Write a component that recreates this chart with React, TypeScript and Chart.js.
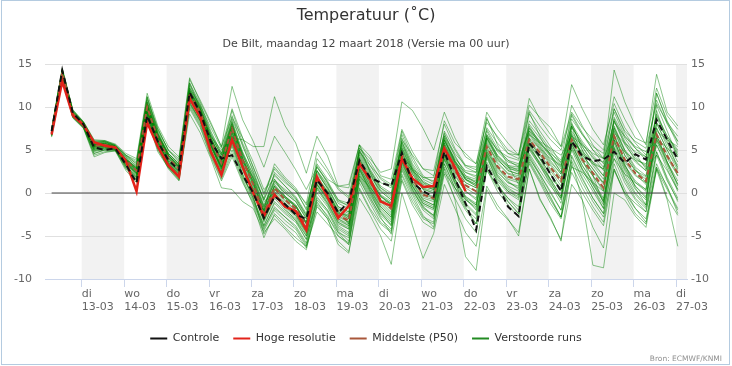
import React, { useEffect, useRef } from 'react';
import { Chart, registerables } from 'chart.js';

Chart.register(...registerables);

const titleText = 'Temperatuur (˚C)';
const subtitleText = 'De Bilt, maandag 12 maart 2018 (Versie ma 00 uur)';
const creditsText = 'Bron: ECMWF/KNMI';

// time axis: hours after 12-03 00:00, 6-hourly steps
const firstHour = 7;
const stepHours = 6;
const xMin = 3.25;
const xMax = 366.2;

const dayNames = ['di', 'wo', 'do', 'vr', 'za', 'zo', 'ma', 'di', 'wo', 'do', 'vr', 'za', 'zo', 'ma', 'di'];
const dayDates = ['13-03', '14-03', '15-03', '16-03', '17-03', '18-03', '19-03', '20-03', '21-03', '22-03', '23-03', '24-03', '25-03', '26-03', '27-03'];
const shadedDays = [0, 2, 4, 6, 8, 10, 12, 14];

const yTicksMin = -10;
const yTicksMax = 15;
const yStep = 5;

const controle = [
  7.2, 14.3, 9.3, 8.0, 5.3, 5.0, 5.2, 3.3, 1.2,
  9.0, 6.0, 3.8, 2.7, 11.7, 9.3, 6.0, 4.0,
  4.4, 2.1, 0.0, -2.9, -0.4, -1.3, -2.5, -3.0, 1.5, 0.0, -2.3, -1.0,
  3.8, 1.8, 1.2, 0.8, 4.7, 1.2, 0.2, -0.4, 4.8, 1.7, -1.2, -4.3,
  3.1, 1.0, -1.6, -2.7, 5.8, 4.3, 2.2, 0.2, 6.0, 4.3, 3.7, 3.9, 4.8, 3.5, 4.5, 3.9, 8.5, 6.2, 3.9,
];

const hogeResolutie = [
  6.8, 13.0, 9.0, 7.9, 5.9, 5.5, 5.3, 3.7, 0.2,
  8.2, 5.4, 3.2, 1.9, 11.0, 8.8, 4.8, 2.1,
  6.2, 3.0, 0.0, -2.7, -0.2, -1.6, -2.1, -4.3, 1.9, -0.5, -2.9, -1.5,
  3.4, 1.6, -1.0, -1.5, 4.0, 1.7, 0.7, 0.8, 5.2, 3.0, 0.2,
];

const middelste = [
  7.0, 14.0, 9.2, 8.0, 5.5, 5.6, 5.3, 3.8, 2.6,
  10.0, 6.4, 4.0, 2.8, 11.6, 9.4, 6.0, 3.5,
  7.5, 3.8, 1.0, -2.4, 0.6, -0.8, -1.8, -3.8, 1.6, -0.3, -2.6, -3.2,
  3.6, 1.3, -0.8, -1.8, 4.5, 1.6, -0.2, -0.6, 5.2, 2.6, 0.9, 0.2,
  5.4, 3.1, 1.9, 1.6, 6.2, 4.7, 3.0, 1.4, 6.2, 3.9, 2.3, 0.6, 6.6, 3.9, 2.3, 1.4, 6.8, 4.3, 2.3,
];

// zero reference line, from first to 59th time step
const nulLijnStappen = [0, 58];
const nulLijnWaarde = 0;

const verstoordeRuns = [
  [7.1,14.2,9.3,8.1,5.7,5.8,5.4,4.0,2.9, 10.4,6.9,4.4,3.1,12.0,9.8,6.4,3.8, 8.0,4.2,1.3,-2.0,1.0,-0.5,-1.5,-3.4,2.0,0.2,-2.0,-2.8, 4.0,1.8,-0.3,-1.2,5.0,2.2,0.5,0.0,5.8,3.2,1.5,0.8, 6.0,3.6,2.3,2.0,7.0,5.2,3.4,1.8,6.8,4.5,2.8,1.0,7.2,4.4,2.6,1.9,7.5,5.0,3.0],
  [6.6,13.4,8.8,7.6,4.6,5.0,5.0,3.0,1.6, 9.0,5.4,3.2,2.0,10.6,8.4,5.0,2.3, 6.0,2.2,-0.6,-3.8,-1.0,-2.2,-3.2,-5.4,0.0,-1.6,-4.0,-4.8, 2.2,0.0,-2.4,-3.6,3.0,0.4,-1.8,-2.6,3.8,1.0,-1.2,-2.4, 4.2,1.8,0.2,-0.6,5.0,3.2,1.0,-1.2,5.4,2.6,0.6,-1.8,5.8,2.8,0.8,-0.4,6.0,3.4,1.0],
  [7.4,14.4,9.6,8.3,6.1,6.0,5.6,4.4,3.6, 11.0,7.6,4.9,3.8,12.8,10.4,7.2,4.6, 9.0,5.4,2.6,-0.8,2.2,0.8,-0.4,-2.4,3.0,1.2,-1.2,-1.8, 5.0,2.8,0.8,0.0,6.4,3.4,1.6,1.0,7.0,4.2,2.4,1.8, 7.2,4.8,3.6,3.2,8.0,6.4,4.8,3.2,7.8,5.6,4.2,2.6,8.4,5.6,4.0,3.2,8.8,6.2,4.4],
  [6.9,13.8,9.0,7.8,5.2,5.4,5.2,3.4,2.0, 9.4,5.8,3.6,2.4,11.0,8.8,5.4,2.8, 6.6,2.8,0.2,-3.2,-0.4,-1.6,-2.6,-4.6,0.8,-1.0,-3.4,-4.0, 2.8,0.4,-1.8,-3.0,3.6,0.8,-1.2,-1.8,4.4,1.6,-0.4,-1.2, 4.6,2.2,0.8,0.2,5.2,3.6,1.6,-0.4,5.2,2.8,1.0,-1.0,5.4,2.6,0.4,-0.8,5.6,2.8,0.2],
  [7.2,14.1,9.2,8.0,5.6,5.7,5.3,3.9,2.8, 10.2,6.6,4.2,3.0,11.8,9.6,6.6,5.0, 6.4,6.2,5.4,5.4,11.2,7.8,5.8,2.3,6.6,4.3,0.8,1.0, 5.6,4.3,2.0,1.6,7.4,4.8,2.8,2.6,8.0,5.2,3.2,2.7, 8.6,6.4,4.6,4.0,9.2,7.2,5.4,3.4,8.6,6.8,5.0,4.0,9.4,6.6,5.2,4.2,9.0,6.6,5.0],
  [7.0,14.0,9.3,8.1,5.8,5.9,5.5,4.2,3.2, 10.8,7.4,5.0,4.0,13.2,10.8,8.2,5.4, 12.4,8.5,6.0,3.0,6.6,4.7,2.7,0.4,3.0,1.4,-0.8,-1.2, 5.2,3.6,1.6,0.8,7.2,4.2,2.0,1.2,6.6,4.4,2.0,1.6, 6.8,5.0,3.8,3.0,7.8,5.8,4.2,2.4,7.2,5.4,3.4,2.0,7.6,5.0,3.6,2.6,8.0,5.8,3.6],
  [6.5,13.2,8.7,7.5,4.2,4.7,4.9,2.6,1.2, 8.6,4.8,2.9,1.5,9.2,7.0,4.0,0.6, 0.4,-1.0,-1.8,-4.6,-3.0,-4.2,-5.6,-6.6,-1.4,-3.0,-5.6,-6.8, -0.6,-2.6,-5.0,-8.3,0.0,-3.8,-7.6,-4.7,1.0,-1.8,-4.6,-6.2, 0.8,-1.4,-3.0,-5.0,2.8,-0.6,-3.0,-5.4,1.0,-0.8,-4.0,-6.4,2.8,-0.2,-2.4,-3.6,3.0,-0.6,-2.6],
  [6.8,13.6,9.0,7.8,5.0,5.2,5.1,3.2,1.8, 9.2,5.6,3.4,2.2,10.4,8.2,4.8,1.8, 5.0,1.6,-1.0,-4.0,-1.8,-2.8,-4.0,-6.0,-0.6,-2.0,-4.4,-5.6, 1.6,-0.8,-3.0,-4.2,2.2,-0.2,-2.6,-4.0,2.8,-0.8,-7.4,-9.0, 0.4,-1.9,-3.1,-4.6,2.8,-0.8,-2.8,-5.6,3.6,-0.8,-8.4,-8.7,0.0,-0.8,-2.7,-4.0,2.7,-0.8,-6.2],
  [7.3,14.3,9.5,8.2,5.9,6.0,5.5,4.3,3.4, 10.6,7.2,4.6,3.4,12.4,10.0,6.8,4.2, 8.4,4.8,2.0,-1.4,1.6,0.2,-0.8,-2.8,2.6,0.8,-1.6,-2.2, 4.6,2.4,0.4,-0.6,5.8,2.8,1.0,0.6,6.6,3.8,2.0,1.2, 6.6,4.2,3.0,2.4,8.4,6.8,5.0,3.8,10.2,7.8,5.6,4.0,14.3,10.6,7.8,5.6,13.8,9.4,7.8],
  [7.1,14.0,9.1,7.9,5.4,5.5,5.2,3.6,2.4, 9.8,6.2,3.8,2.6,11.4,9.2,5.8,3.2, 7.2,3.4,0.6,-2.8,0.2,-1.2,-2.2,-4.2,1.2,-0.6,-3.0,-3.6, 3.2,1.0,-1.0,-2.2,4.2,1.2,-0.6,-1.0,5.8,3.6,2.4,2.0, 7.6,5.8,4.6,4.4,11.0,8.6,6.8,5.4,12.6,9.8,7.4,5.6,10.4,7.6,5.8,4.4,10.8,8.0,6.0],
  [6.9,13.9,9.1,7.9,5.5,5.6,5.3,3.8,2.6, 10.0,6.4,4.0,2.8,11.6,9.4,6.0,3.6, 7.6,3.8,1.0,-2.2,0.8,-0.6,-1.6,-3.6,1.8,0.0,-2.4,-2.6, 5.2,4.0,2.4,2.8,10.6,9.6,7.5,5.0,9.4,6.4,4.2,3.4, 8.2,6.6,5.0,4.4,9.6,7.8,6.2,5.0,9.0,6.8,5.4,4.6,9.8,7.2,6.0,5.2,10.4,8.2,6.6],
  [7.0,13.9,9.2,8.0,5.3,5.5,5.3,3.6,2.2, 9.6,6.0,3.6,2.5,11.2,9.0,5.6,3.0, 7.0,3.2,0.4,-3.0,0.0,-1.4,-2.4,-4.4,1.0,-0.8,-3.2,-3.8, 3.0,0.8,-1.4,-2.6,4.0,1.0,-0.8,-1.4,4.6,2.0,0.2,-0.6, 4.8,2.4,1.2,0.8,5.6,4.0,2.2,0.4,5.6,3.2,1.4,-0.6,6.0,3.2,1.4,0.4,6.2,3.6,1.4],
  [7.2,14.1,9.3,8.1,5.6,5.8,5.4,3.9,2.9, 10.2,6.8,4.4,3.2,11.8,9.6,6.4,4.0, 7.8,4.4,1.8,-1.6,1.2,0.0,-1.0,-3.0,2.2,0.6,-1.8,-2.4, 4.2,2.0,0.2,-0.8,5.2,2.6,0.8,0.4,5.6,3.4,1.8,1.4, 5.6,3.8,2.8,2.6,6.4,5.2,4.0,3.2,6.0,4.8,3.6,2.8,6.2,4.8,3.8,3.4,6.4,5.2,4.2],
  [6.7,13.5,8.9,7.7,4.8,5.1,5.1,3.1,1.8, 9.0,5.4,3.0,1.8,10.2,8.0,4.6,2.0, 5.6,2.0,-0.8,-4.2,-1.6,-2.8,-3.8,-5.8,-0.8,-2.2,-4.6,-5.2, 1.6,-0.6,-2.6,-3.8,2.6,0.0,-2.0,-3.0,3.0,0.2,-2.0,-3.6, 3.4,1.0,-0.6,-1.6,4.0,2.2,0.2,-2.0,4.2,1.6,-0.6,-2.4,4.6,1.6,-0.6,-1.8,4.8,1.8,-0.6],
  [7.5,14.5,9.7,8.3,6.2,6.1,5.7,4.6,4.0, 11.6,7.8,5.4,4.2,13.4,10.6,8.0,5.4, 8.8,6.4,3.0,0.0,3.0,1.6,0.4,-2.0,3.4,1.6,0.8,0.6, 5.6,3.2,1.2,0.6,6.8,3.8,1.8,1.8,8.4,5.8,4.6,3.4, 9.4,7.4,5.8,4.4,10.2,8.8,7.6,5.4,9.4,7.6,6.2,5.0,11.2,8.6,6.4,5.8,12.2,9.0,7.4],
  [6.8,13.7,9.0,7.8,5.1,5.3,5.1,3.4,2.2, 9.4,5.8,3.4,2.2,11.0,8.8,5.2,2.6, 6.4,2.6,0.0,-3.4,-0.6,-2.0,-3.0,-5.0,0.4,-1.4,-3.8,-4.6, 2.4,0.2,-2.0,-3.2,3.4,0.6,-1.4,-2.0,4.0,1.2,-0.8,-1.6, 3.6,1.4,0.0,-0.8,3.8,1.6,-0.4,-2.8,3.2,0.6,-1.6,-3.4,3.4,0.4,-1.8,-3.0,3.0,0.8,-2.4],
  [7.0,14.0,9.2,8.0,5.5,5.7,5.3,3.8,2.7, 10.0,6.4,4.0,2.9,11.6,9.4,6.0,3.5, 7.4,3.8,1.0,-2.4,0.4,-0.8,-2.0,-4.0,1.4,-0.4,-2.8,-3.4, 3.4,1.2,-0.8,-2.0,4.4,1.4,-0.4,-0.8,5.0,2.4,0.6,-0.2, 5.2,2.8,1.6,1.2,6.0,4.4,2.6,0.8,6.4,3.8,2.0,0.2,6.8,3.8,2.2,1.0,7.0,4.6,2.0],
  [7.3,14.2,9.4,8.2,5.8,5.9,5.5,4.2,3.1, 10.6,7.0,4.6,3.4,12.2,10.0,6.8,4.4, 8.2,4.6,1.6,-1.8,1.4,0.4,-0.6,-2.6,2.6,1.0,-1.0,-1.4, 4.8,2.6,0.6,-0.2,6.0,3.0,1.2,0.8,6.4,3.6,1.8,1.2, 6.4,4.2,3.0,2.8,7.4,5.8,4.4,3.0,8.0,6.0,4.4,3.0,8.6,6.0,4.2,3.0,9.2,6.6,4.8],
  [6.6,13.3,8.8,7.6,4.4,4.8,4.9,2.8,1.4, 8.8,5.0,3.0,1.6,9.8,7.6,4.2,1.4, 4.2,1.2,-1.2,-4.4,-2.0,-3.2,-4.2,-6.2,-1.2,-2.6,-5.0,-5.8, 1.2,-1.2,-3.4,-4.4,2.0,-0.6,-2.8,-3.4,3.4,0.6,-1.8,-3.0, 4.4,2.0,0.4,-0.2,5.6,3.4,1.4,-0.8,5.8,2.8,0.6,-1.4,6.2,3.0,0.8,-0.6,6.8,3.6,0.8],
  [7.1,14.1,9.3,8.0,5.6,5.7,5.4,3.9,2.6, 10.0,6.6,4.2,3.0,11.8,9.6,6.2,3.8, 7.8,4.0,1.4,-2.0,0.8,-0.4,-1.4,-3.4,1.6,-0.2,-2.4,-3.0, 3.8,1.6,-0.4,-1.4,4.8,1.8,0.0,-0.4,5.4,3.0,1.2,0.6, 6.8,4.4,3.2,3.0,7.6,6.0,4.4,2.8,9.2,7.0,5.0,3.4,9.8,7.0,5.2,3.8,11.6,8.4,6.0],
  [6.9,13.8,9.1,7.9,5.2,5.4,5.2,3.5,2.3, 9.6,6.0,3.6,2.4,11.2,9.0,5.6,3.0, 6.8,3.0,0.2,-3.0,-0.2,-1.4,-2.6,-4.6,0.6,-1.2,-3.6,-4.2, 2.8,0.6,-1.6,-2.8,3.6,0.8,-1.0,-1.6,4.4,1.4,-0.6,-1.4, 4.0,1.6,0.2,-0.4,4.4,2.2,0.0,-2.0,3.8,1.2,-1.0,-2.8,2.8,0.0,-1.2,-2.2,3.4,0.6,-1.8],
  [7.2,14.2,9.4,8.1,5.7,5.8,5.4,4.0,3.0, 10.4,6.8,4.4,3.2,12.0,9.8,6.4,3.8, 8.0,4.0,1.2,-2.2,0.8,-0.4,-1.4,-3.6,1.8,0.2,-2.2,-3.0, 4.0,1.6,-0.4,-1.4,4.8,2.2,0.4,0.0,5.6,3.0,1.2,0.6, 5.8,3.4,2.2,1.8,6.8,5.0,3.2,1.6,6.6,4.4,2.8,1.2,7.4,4.4,2.6,1.6,7.6,5.0,2.6],
  [6.8,13.6,8.9,7.7,4.9,5.2,5.0,3.2,1.9, 9.2,5.6,3.2,2.0,10.6,8.4,5.0,2.2, 5.8,2.2,-0.6,-3.8,-1.2,-2.4,-3.4,-5.4,-0.4,-2.0,-4.2,-5.0, 2.0,-0.2,-2.2,-3.4,2.8,0.2,-1.6,-2.6,3.4,0.6,-1.4,-2.6, 3.0,0.6,-1.0,-2.4,3.4,1.2,-1.2,-3.0,2.4,0.0,-2.0,-3.8,2.6,0.0,-1.8,-3.4,2.8,0.4,-2.0],
  [7.0,14.0,9.2,8.0,5.4,5.6,5.3,3.7,2.5, 9.8,6.2,3.8,2.6,11.4,9.2,5.8,3.2, 7.2,3.6,0.8,-2.6,0.4,-1.0,-2.0,-4.0,1.4,-0.4,-2.6,-3.4, 3.4,1.2,-0.8,-1.8,4.4,1.6,-0.2,-0.6,5.2,2.6,0.8,0.2, 5.4,3.0,1.8,1.4,6.2,4.6,2.8,1.2,6.0,3.6,2.0,0.4,6.6,3.6,2.0,1.2,6.6,4.0,2.0],
  [7.3,14.3,9.5,8.2,5.9,6.0,5.5,4.4,3.4, 11.2,7.4,5.0,3.6,12.6,10.2,7.0,4.6, 9.6,5.8,3.0,-0.2,2.8,1.4,0.2,-1.8,3.2,1.2,-0.8,-1.6, 5.0,2.6,0.6,-0.4,6.0,3.2,1.2,0.4,6.2,3.6,1.6,1.0, 6.2,4.0,2.6,2.2,7.2,5.4,3.6,2.2,7.0,5.0,3.2,1.6,7.8,5.0,3.0,2.0,8.2,5.4,3.2],
  [6.7,13.5,8.8,7.6,4.6,5.0,5.0,2.9,1.5, 8.8,5.2,3.0,1.7,10.0,7.8,4.4,1.6, 4.6,1.4,-1.4,-5.2,-2.4,-3.6,-4.6,-6.4,-1.6,-3.0,-6.0,-7.0, 0.4,-2.0,-4.2,-5.6,1.4,-1.4,-3.4,-4.2,2.2,-0.6,-3.0,-4.6, 2.8,0.2,-1.4,-2.8,3.6,1.4,-0.8,-2.8,4.4,1.8,-0.6,-2.4,4.0,1.2,-0.8,-2.2,4.4,1.4,-0.8],
  [7.1,14.1,9.2,8.0,5.6,5.6,5.3,3.8,2.8, 10.2,6.6,4.2,3.0,11.8,9.6,6.2,3.6, 7.6,4.0,1.2,-2.2,0.6,-0.6,-1.6,-3.6,1.8,0.0,-2.2,-2.8, 3.8,1.6,-0.4,-1.2,5.2,2.4,0.6,0.2,6.0,4.0,2.6,2.4, 6.6,5.0,4.2,3.8,7.2,6.0,5.2,4.4,6.6,5.6,4.6,4.0,7.0,5.8,4.8,4.2,7.2,6.2,5.4],
  [6.9,13.7,9.0,7.8,5.1,5.3,5.1,3.4,2.1, 9.4,5.8,3.4,2.3,11.0,8.8,5.4,2.8, 6.6,3.0,0.2,-3.2,-0.4,-1.6,-2.8,-4.8,0.6,-1.2,-3.4,-4.2, 2.6,0.4,-1.6,-2.8,3.8,0.8,-1.2,-1.8,4.6,1.6,-0.4,-1.4, 4.6,2.0,0.6,-0.2,5.2,3.2,1.2,-0.6,5.0,2.2,0.2,-1.8,5.2,1.8,-0.2,-1.6,4.8,1.6,-1.0],
  [7.2,14.2,9.3,8.1,5.7,5.7,5.4,4.0,2.9, 10.4,6.8,4.4,3.2,12.0,9.8,6.4,4.0, 8.2,4.4,1.6,-1.6,1.4,0.0,-1.0,-3.0,2.4,0.6,-1.6,-2.2, 4.4,2.2,0.2,-0.8,5.6,2.8,0.8,0.4,6.2,3.4,1.6,1.0, 6.4,4.0,2.6,2.2,7.6,5.6,3.8,2.2,7.8,5.4,3.6,2.0,8.4,5.8,3.8,2.6,11.6,8.2,5.6],
  [6.9,13.8,9.1,7.9,5.3,5.4,5.2,3.5,2.3, 9.6,6.0,3.6,2.4,11.2,9.0,5.6,2.9, 7.0,3.2,0.4,-2.8,0.0,-1.4,-2.4,-4.4,1.0,-0.8,-3.0,-3.8, 3.0,0.8,-1.2,-2.4,4.0,1.2,-0.8,-1.4,4.8,2.2,0.2,-0.8, 5.0,2.6,1.2,0.6,5.8,4.0,2.2,0.2,5.8,3.2,1.2,-0.8,6.2,3.2,1.2,0.2,6.4,3.6,1.0],
  [7.0,14.1,9.2,7.9,5.5,5.4,5.2,3.7,2.4, 9.9,6.2,3.9,2.6,11.5,9.4,6.6,4.4, 8.6,5.6,2.4,-1.0,0.0,-1.8,-3.2,-5.0,-1.0,-2.8,-4.6,-6.0, 0.6,-1.8,-3.6,-4.6,3.8,2.6,1.4,0.6,7.2,5.0,3.0,2.4, 8.8,5.6,3.2,1.0,4.2,2.0,-0.6,-2.8,3.0,2.4,1.2,0.2,8.8,6.4,4.6,2.8,4.4,2.6,0.4],
  [7.1,14.0,9.1,8.0,5.6,5.6,5.4,3.9,2.7, 10.1,6.5,4.1,2.9,11.6,9.2,5.6,2.6, 5.4,1.8,-0.2,-2.0,2.4,1.2,0.2,-1.2,4.8,2.8,0.6,-0.4, 5.6,2.4,-0.2,-1.0,3.2,0.4,-1.6,-2.8,2.4,0.6,-0.8,-1.8, 6.4,4.4,3.2,2.6,9.4,6.6,4.4,2.4,8.2,5.0,2.0,-1.2,5.2,2.2,0.0,-1.4,8.2,6.4,4.6],
  [6.8,13.8,9.2,7.9,5.4,5.6,5.2,3.6,2.3, 9.6,6.6,4.6,3.4,12.2,10.2,7.6,5.2, 9.8,6.4,3.6,0.4,1.6,-0.4,-1.6,-3.4,1.0,-0.6,-2.0,-2.6, 2.8,0.2,-2.2,-3.8,4.4,2.8,1.8,1.4,4.2,1.6,-0.6,-2.0, 2.6,0.8,-0.6,-2.0,6.8,5.8,4.6,3.6,6.8,4.2,2.4,1.2,4.0,2.2,1.2,0.4,9.6,6.0,2.8],
  [7.2,14.3,9.4,8.1,5.8,5.7,5.3,3.8,2.5, 10.3,6.0,3.4,2.0,11.0,8.6,5.4,3.0, 6.0,3.6,1.8,-0.6,3.4,1.8,0.6,-1.4,2.6,0.4,-2.2,-3.6, 2.0,0.6,-0.8,-1.2,6.2,4.4,2.8,2.0,6.8,4.6,3.2,3.0, 7.4,5.2,3.8,3.4,5.4,3.4,1.6,0.6,7.6,5.8,4.0,3.6,8.2,6.6,5.4,4.8,6.2,4.2,2.4],
  [6.9,13.6,9.0,7.8,5.0,5.0,5.0,3.2,1.6, 9.2,5.2,2.8,1.4,10.4,8.4,5.0,2.4, 7.8,3.4,-0.4,-4.8,-2.6,-4.0,-5.2,-6.2,-2.2,-3.6,-5.0,-6.0, 1.8,-0.4,-2.8,-4.8,1.6,-1.0,-3.0,-3.6,6.2,3.8,1.6,0.8, 4.4,1.2,-1.0,-2.4,4.6,2.6,0.8,-0.6,7.8,4.0,1.0,-1.0,6.8,3.4,0.6,-1.4,10.2,7.2,4.2],
  [7.3,14.4,9.6,8.2,6.0,6.1,5.6,4.4,3.8, 11.2,7.0,4.4,3.0,12.8,9.8,5.8,3.0, 7.6,4.6,2.2,-0.8,2.0,0.8,-0.6,-2.6,4.0,2.4,0.4,-0.6, 4.8,3.2,1.8,1.0,5.4,2.6,0.4,-0.8,4.0,1.2,-1.6,-3.6, 4.8,3.0,1.4,0.4,6.4,4.0,1.6,-0.4,6.4,4.6,3.4,2.8,7.6,4.8,2.8,1.2,5.6,3.2,0.4],
];

const FONT = "'DejaVu Sans', sans-serif";

const toPoints = (values: number[]) =>
  values.map((v, k) => ({ x: firstHour + stepHours * k, y: v }));

const decorPlugin = {
  id: 'decor',
  beforeDraw(chart: any) {
    const { ctx, chartArea, scales } = chart;
    const x = scales.x;
    ctx.save();
    ctx.fillStyle = '#ffffff';
    ctx.fillRect(0, 0, chart.width, chart.height);
    ctx.beginPath();
    ctx.rect(chartArea.left, chartArea.top, chartArea.right - chartArea.left, chartArea.bottom - chartArea.top);
    ctx.clip();
    ctx.fillStyle = '#f2f2f2';
    shadedDays.forEach((i) => {
      const x0 = x.getPixelForValue(24 * (i + 1));
      const x1 = x.getPixelForValue(24 * (i + 2));
      ctx.fillRect(x0, chartArea.top, x1 - x0, chartArea.bottom - chartArea.top);
    });
    ctx.restore();
  },
  afterDraw(chart: any) {
    const { ctx } = chart;
    ctx.save();
    ctx.font = `7.5px ${FONT}`;
    ctx.fillStyle = '#909090';
    ctx.textAlign = 'right';
    ctx.textBaseline = 'middle';
    ctx.fillText(creditsText, 722, 359);
    ctx.strokeStyle = '#b4cbe0';
    ctx.lineWidth = 1;
    ctx.strokeRect(1.5, 0.5, 728, 364);
    ctx.restore();
  },
};

export default function App() {
  const canvasRef = useRef<HTMLCanvasElement | null>(null);

  useEffect(() => {
    if (!canvasRef.current) return;
    Chart.defaults.font.family = FONT;

    const memberSets = verstoordeRuns.map((m, i) => ({
      label: i === 0 ? 'Verstoorde runs' : '',
      data: toPoints(m),
      borderColor: 'rgba(0,128,0,0.45)',
      borderWidth: 1,
      pointRadius: 0,
      fill: false,
      tension: 0,
      order: 5,
    }));

    const datasets: any[] = [
      {
        label: 'Controle',
        data: toPoints(controle),
        borderColor: '#111111',
        borderWidth: 2,
        borderDash: [6, 4],
        pointRadius: 0,
        fill: false,
        order: 1,
      },
      {
        label: 'Hoge resolutie',
        data: toPoints(hogeResolutie),
        borderColor: '#e2231a',
        borderWidth: 2.5,
        pointRadius: 0,
        fill: false,
        order: 2,
      },
      {
        label: 'Middelste (P50)',
        data: toPoints(middelste),
        borderColor: '#a9573a',
        borderWidth: 2,
        borderDash: [5, 3],
        pointRadius: 0,
        fill: false,
        order: 3,
      },
      {
        label: '',
        data: nulLijnStappen.map((k) => ({ x: firstHour + stepHours * k, y: nulLijnWaarde })),
        borderColor: '#444444',
        borderWidth: 1,
        pointRadius: 0,
        fill: false,
        order: 4,
      },
      ...memberSets,
    ];

    const chart = new Chart(canvasRef.current, {
      type: 'line',
      data: { datasets },
      plugins: [decorPlugin],
      options: {
        animation: false,
        responsive: false,
        devicePixelRatio: 1,
        parsing: false as any,
        normalized: true,
        layout: { padding: { left: 0, right: 0, top: 0, bottom: 12 } },
        plugins: {
          title: {
            display: true,
            text: titleText,
            color: '#333333',
            font: { family: FONT, size: 16, weight: 'normal', lineHeight: 1.2 },
            padding: { top: 6.4, bottom: 0 },
          },
          subtitle: {
            display: true,
            text: subtitleText,
            color: '#444444',
            font: { family: FONT, size: 11, weight: 'normal', lineHeight: 1.2 },
            padding: { top: 12.3, bottom: 12.9 },
          },
          legend: {
            display: true,
            position: 'bottom',
            labels: {
              usePointStyle: true,
              pointStyle: 'line',
              pointStyleWidth: 17,
              boxHeight: 11,
              padding: 14,
              color: '#333333',
              font: { family: FONT, size: 11 },
              generateLabels: (c: any) => {
                const items = (Chart.defaults.plugins.legend.labels as any).generateLabels(c);
                return items
                  .filter((it: any) => it.text)
                  .map((it: any) =>
                    it.text === 'Verstoorde runs'
                      ? { ...it, strokeStyle: '#228b22', lineWidth: 2 }
                      : { ...it, lineWidth: 2 }
                  );
              },
            },
          },
          tooltip: { enabled: false },
        },
        scales: {
          x: {
            type: 'linear',
            min: xMin,
            max: xMax,
            afterBuildTicks: (scale: any) => {
              scale.ticks = dayDates.map((_, i) => ({ value: 24 * (i + 1) }));
            },
            afterFit: (scale: any) => {
              scale.height = 40;
            },
            ticks: {
              autoSkip: false,
              maxRotation: 0,
              align: 'start',
              padding: 1.5,
              color: '#666666',
              font: { family: FONT, size: 11, lineHeight: 1.1 },
              callback: (value: any) => {
                const i = Math.round(Number(value) / 24) - 1;
                return [dayNames[i], dayDates[i]];
              },
            },
            grid: { drawOnChartArea: false, drawTicks: true, tickLength: 8, color: '#ccd6eb' },
            border: { display: true, color: '#ccd6eb' },
          },
          y: {
            type: 'linear',
            position: 'left',
            min: yTicksMin,
            max: yTicksMax,
            afterFit: (scale: any) => {
              scale.width = 45;
            },
            ticks: { stepSize: yStep, padding: 13, color: '#666666', font: { family: FONT, size: 11 } },
            grid: { color: '#e0e0e0', drawTicks: false },
            border: { display: false },
          },
          y2: {
            type: 'linear',
            position: 'right',
            min: yTicksMin,
            max: yTicksMax,
            afterFit: (scale: any) => {
              scale.width = 45;
            },
            ticks: { stepSize: yStep, padding: 4, color: '#666666', font: { family: FONT, size: 11 } },
            grid: { display: false, drawTicks: false },
            border: { display: false },
          },
        },
      } as any,
    });

    return () => chart.destroy();
  }, []);

  return (
    <div style={{ position: 'absolute', left: 0, top: 0, width: 732, height: 366, background: '#fff' }}>
      <canvas ref={canvasRef} width={732} height={366} style={{ display: 'block' }} />
    </div>
  );
}
